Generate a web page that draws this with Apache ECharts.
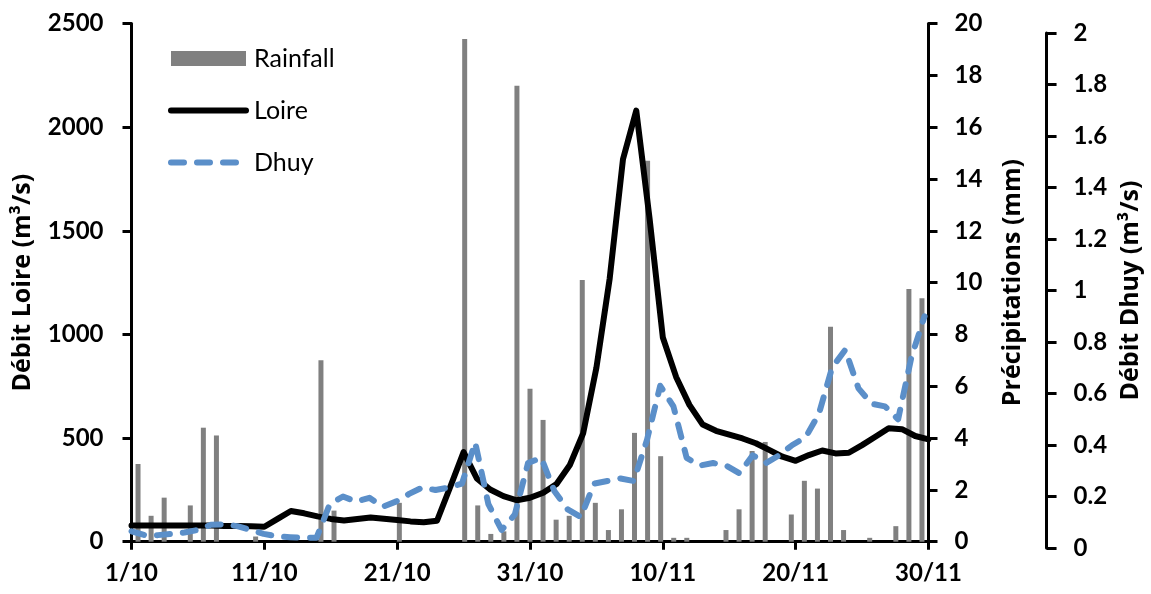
<!DOCTYPE html>
<html>
<head>
<meta charset="utf-8">
<script src="https://cdn.jsdelivr.net/npm/echarts@6/dist/echarts.min.js"></script>
<style>
  html, body { margin: 0; padding: 0; background: #fff; }
  #chart { width: 1151px; height: 594px; }
</style>
</head>
<body>
<div id="chart"></div>
<script>
const dates = [
  '1/10','2/10','3/10','4/10','5/10','6/10','7/10','8/10','9/10','10/10',
  '11/10','12/10','13/10','14/10','15/10','16/10','17/10','18/10','19/10','20/10',
  '21/10','22/10','23/10','24/10','25/10','26/10','27/10','28/10','29/10','30/10',
  '31/10','1/11','2/11','3/11','4/11','5/11','6/11','7/11','8/11','9/11',
  '10/11','11/11','12/11','13/11','14/11','15/11','16/11','17/11','18/11','19/11',
  '20/11','21/11','22/11','23/11','24/11','25/11','26/11','27/11','28/11','29/11',
  '30/11'
];

// Rainfall (mm) – right axis "Précipitations"
const rainfall = [
  3.0, 1.0, 1.7, 0, 1.4, 4.4, 4.1, 0, 0, 0.2,
  0, 0, 0, 0, 7.0, 1.2, 0, 0, 0, 0,
  1.5, 0, 0, 0, 0, 19.4, 1.4, 0.3, 0.4, 17.6,
  5.9, 4.7, 0.85, 1.0, 10.1, 1.5, 0.45, 1.25, 4.2, 14.7,
  3.3, 0.15, 0.15, 0, 0, 0.45, 1.25, 3.5, 3.85, 0,
  1.05, 2.35, 2.05, 8.3, 0.45, 0, 0.15, 0, 0.6, 9.75,
  9.4
];

// Débit Loire (m3/s) – left axis
const loire = [
  78, 78, 78, 78, 78, 78, 78, 76, 76, 75,
  72, 110, 148, 137, 122, 110, 102, 109, 117, 111,
  105, 98, 94, 101, 265, 432, 305, 252, 220, 200,
  212, 236, 278, 370, 523, 840, 1270, 1845, 2080, 1560,
  985, 795, 660, 565, 535, 516, 498, 475, 443, 410,
  390, 418, 440, 426, 429, 466, 506, 547, 543, 510,
  494
];

// Débit Dhuy (m3/s) – far right axis
const dhuy = [
  0.065, 0.05, 0.05, 0.055, 0.06, 0.07, 0.09, 0.092, 0.085, 0.07,
  0.055, 0.045, 0.042, 0.04, 0.04, 0.17, 0.2, 0.18, 0.195, 0.16,
  0.18, 0.21, 0.235, 0.225, 0.235, 0.25, 0.41, 0.17, 0.07, 0.13,
  0.33, 0.35, 0.22, 0.15, 0.12, 0.25, 0.26, 0.27, 0.26, 0.42,
  0.63, 0.55, 0.35, 0.32, 0.33, 0.32, 0.29, 0.36, 0.33, 0.36,
  0.40, 0.43, 0.52, 0.70, 0.77, 0.62, 0.56, 0.55, 0.50, 0.74,
  0.90
];

const FONT = 'Lato';
const TITLE_FONT = 'Open Sans';
const DHUY_COLOR = '#5b8fc9';
const DHUY_DASH = [13, 13];
const tickLabel = { fontFamily: FONT, fontWeight: 'bold', fontSize: 24, color: '#000' };
const nameStyle = { fontFamily: TITLE_FONT, fontWeight: 'bold', fontSize: 25, color: '#000' };
const axisLine = { show: true, lineStyle: { color: '#000', width: 3 } };
const axisTick = { show: true, length: 9, lineStyle: { color: '#000', width: 3 } };
const plain = v => String(v);

const chart = echarts.init(document.getElementById('chart'), null, { renderer: 'canvas' });

chart.setOption({
  animation: false,
  backgroundColor: '#ffffff',
  grid: [
    { left: 131.5, right: 222.5, top: 23.5, bottom: 52.3, show: false },
    { left: 131.5, right: 222.5, top: 33, bottom: 46, show: false }
  ],
  legend: {
    orient: 'vertical',
    left: 163,
    top: 41,
    itemWidth: 75,
    itemHeight: 15,
    itemGap: 27,
    textStyle: { fontFamily: FONT, fontSize: 25, color: '#000', lineHeight: 24, padding: [0, 0, 0, 3] },
    data: [
      { name: 'Rainfall', icon: 'rect', itemStyle: { color: '#808080' } },
      { name: 'Loire', itemStyle: { opacity: 0 },
        lineStyle: { color: '#000', width: 6, cap: 'round', type: 'solid' } },
      { name: 'Dhuy', itemStyle: { opacity: 0 },
        lineStyle: { color: DHUY_COLOR, width: 6, cap: 'round', type: DHUY_DASH } }
    ]
  },
  xAxis: [
    {
      type: 'category', gridIndex: 0, data: dates, boundaryGap: false,
      axisLine: axisLine,
      axisTick: { show: true, interval: 9, length: 8, lineStyle: { color: '#000', width: 3 } },
      axisLabel: Object.assign({ interval: 9, margin: 20 }, tickLabel),
      splitLine: { show: false }
    },
    {
      type: 'category', gridIndex: 0, data: dates, boundaryGap: true, position: 'top',
      axisLine: axisLine, axisTick: { show: false }, axisLabel: { show: false },
      splitLine: { show: false }
    },
    {
      type: 'category', gridIndex: 1, data: dates, boundaryGap: false, show: false
    }
  ],
  yAxis: [
    {
      type: 'value', gridIndex: 0, position: 'left', min: 0, max: 2500, interval: 500,
      name: 'Débit Loire (m³/s)', nameLocation: 'middle', nameRotate: 90, nameGap: 96,
      nameTextStyle: nameStyle,
      axisLine: axisLine, axisTick: axisTick,
      axisLabel: Object.assign({ margin: 28, formatter: plain }, tickLabel),
      splitLine: { show: false }
    },
    {
      type: 'value', gridIndex: 0, position: 'right', min: 0, max: 20, interval: 2,
      name: 'Précipitations (mm)', nameLocation: 'middle', nameRotate: 90, nameGap: 72,
      nameTextStyle: nameStyle,
      axisLine: axisLine, axisTick: axisTick,
      axisLabel: Object.assign({ margin: 26, formatter: plain }, tickLabel),
      splitLine: { show: false }
    },
    {
      type: 'value', gridIndex: 1, position: 'right', offset: 122, min: 0, max: 2, interval: 0.2,
      name: 'Débit Dhuy (m³/s)', nameLocation: 'middle', nameRotate: 90, nameGap: 71,
      nameTextStyle: nameStyle,
      axisLine: axisLine, axisTick: { show: true, length: 10, lineStyle: { color: '#000', width: 3 } },
      axisLabel: Object.assign({ margin: 27 }, tickLabel),
      splitLine: { show: false }
    }
  ],
  series: [
    {
      name: 'Rainfall', type: 'bar', xAxisIndex: 1, yAxisIndex: 1,
      data: rainfall, barWidth: 5, itemStyle: { color: '#808080' }
    },
    {
      name: 'Loire', type: 'line', xAxisIndex: 0, yAxisIndex: 0,
      data: loire, symbol: 'none', showSymbol: false,
      lineStyle: { color: '#000000', width: 6, join: 'round', cap: 'round' },
      itemStyle: { color: '#000000' }
    },
    {
      name: 'Dhuy', type: 'line', xAxisIndex: 2, yAxisIndex: 2,
      data: dhuy, symbol: 'none', showSymbol: false,
      lineStyle: { color: DHUY_COLOR, width: 6, type: DHUY_DASH, cap: 'round', join: 'round' },
      itemStyle: { color: DHUY_COLOR }
    }
  ]
});
</script>
</body>
</html>
